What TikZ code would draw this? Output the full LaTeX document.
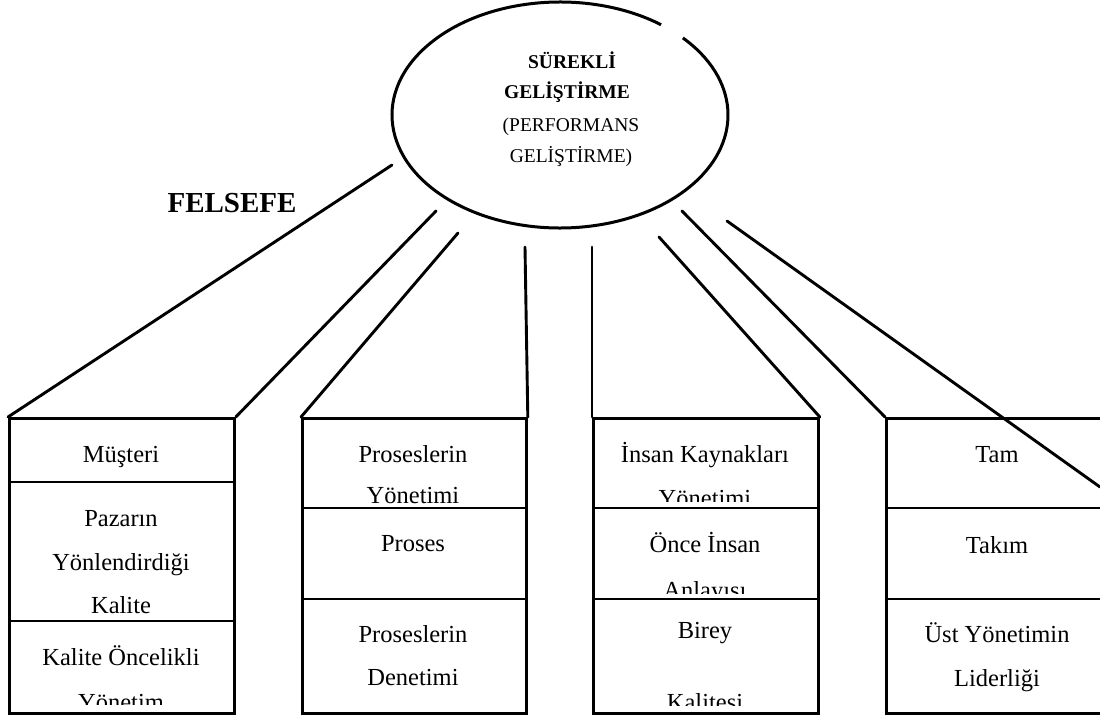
\documentclass[tikz,border=0pt]{standalone}
\usepackage{fontspec}
\setmainfont{Liberation Serif}
\usetikzlibrary{shapes.geometric}
\begin{document}
\begin{tikzpicture}[x=1pt,y=1pt,
  rule/.style={line width=2.8pt},
  spoke/.style={line width=2.9pt, line cap=round},
  frame/.style={draw, rule, rectangle, inner sep=0pt, anchor=north west,
                minimum width=225pt, minimum height=295pt},
  lbl/.style={anchor=base, inner sep=0pt, font=\fontsize{24.5}{29}\selectfont},
  headb/.style={anchor=base, inner sep=0pt, font=\fontsize{19.5}{23}\selectfont\bfseries},
  headr/.style={anchor=base, inner sep=0pt, font=\fontsize{19.5}{23}\selectfont},
]
\useasboundingbox (0,0) rectangle (1100,-717);
\fill[white] (0,0) rectangle (1100,-717);

% central goal: ellipse with a small gap at the upper right
\node[ellipse, minimum width=336pt, minimum height=226pt, inner sep=0pt] (goal) at (560,-115) {};
\draw[line width=3pt] (goal.center) ++(53:168pt and 113pt)
  arc[start angle=53, end angle=403, x radius=168pt, y radius=113pt];
\node[headb] (g1) at (572,-68)  {SÜREKLİ};
\node[headb] (g2) at (567,-98)  {GELİŞTİRME};
\node[headr] (g3) at (571,-131) {(PERFORMANS};
\node[headr] (g4) at (571,-162) {GELİŞTİRME)};

\node[anchor=base, inner sep=0pt, font=\fontsize{29}{29}\selectfont\bfseries] (phil) at (232,-212) {FELSEFE};

% the four pillars
\node[frame] (col1) at (8,-417) {};
\node[frame, minimum width=224pt] (col2) at (301,-417) {};
\node[frame] (col3) at (592,-417) {};
\node[frame] (col4) at (885,-417) {};

% pillar texts, each cell clipped to its own area
\node[lbl] (m1) at (121,-462) {Müşteri};
\begin{scope}
  \clip (8,-482) rectangle (233,-617);
  \node[lbl] (m2) at (121,-526) {Pazarın};
  \node[lbl] (m3) at (121,-570) {Yönlendirdiği};
  \node[lbl] (m4) at (121,-613) {Kalite};
\end{scope}
\begin{scope}
  \clip (8,-621) rectangle (233,-704);
  \node[lbl] (m5) at (121,-665) {Kalite Öncelikli};
  \node[lbl] (m6) at (121,-710) {Yönetim};
\end{scope}

\begin{scope}
  \clip (301,-417) rectangle (525,-505);
  \node[lbl] (p1) at (413,-462) {Proseslerin};
  \node[lbl] (p2) at (413,-503) {Yönetimi};
\end{scope}
\node[lbl] (p3) at (413,-551) {Proses};
\node[lbl] (p4) at (413,-642) {Proseslerin};
\node[lbl] (p5) at (413,-685) {Denetimi};

\begin{scope}
  \clip (592,-417) rectangle (817,-501);
  \node[lbl] (h1) at (705,-462) {İnsan Kaynakları};
  \node[lbl] (h2) at (705,-506) {Yönetimi};
\end{scope}
\begin{scope}
  \clip (592,-508) rectangle (817,-593);
  \node[lbl] (h3) at (705,-552) {Önce İnsan};
  \node[lbl] (h4) at (705,-598) {Anlayışı};
\end{scope}
\begin{scope}
  \clip (592,-599) rectangle (817,-705);
  \node[lbl] (h5) at (705,-638) {Birey};
  \node[lbl] (h6) at (705,-710) {Kalitesi};
\end{scope}

\node[lbl] (t1) at (997,-462) {Tam};
\node[lbl] (t2) at (997,-553) {Takım};
\node[lbl] (t3) at (997,-642) {Üst Yönetimin};
\node[lbl] (t4) at (997,-686) {Liderliği};

% cell dividers
\draw[rule] (col1.west |- 0,-482) -- (col1.east |- 0,-482);
\draw[rule] (col1.west |- 0,-621) -- (col1.east |- 0,-621);
\foreach \c in {col2,col3,col4} {
  \draw[rule] (\c.west |- 0,-508) -- (\c.east |- 0,-508);
  \draw[rule] (\c.west |- 0,-599) -- (\c.east |- 0,-599);
}

% spokes from the goal to the pillars
\coordinate (s1) at (392,-165);
\coordinate (s2) at (436,-211);
\coordinate (s3) at (458,-233);
\coordinate (s4) at (525,-247);
\coordinate (s5) at (592,-247);
\coordinate (s6) at (659,-237);
\coordinate (s7) at (682,-211);
\coordinate (s8) at (727,-221);
\coordinate (e8) at (1100,-487);
\draw[spoke] (s1) -- (col1.north west);
\draw[spoke] (s2) -- (col1.north east);
\draw[spoke] (s3) -- (col2.north west);
\draw[spoke] (s4) -- (col2.north east);
\draw[spoke] (s5) -- (col3.north west);
\draw[spoke] (s6) -- (col3.north east);
\draw[spoke] (s7) -- (col4.north west);
\draw[spoke] (s8) -- (e8);
\end{tikzpicture}
\end{document}
